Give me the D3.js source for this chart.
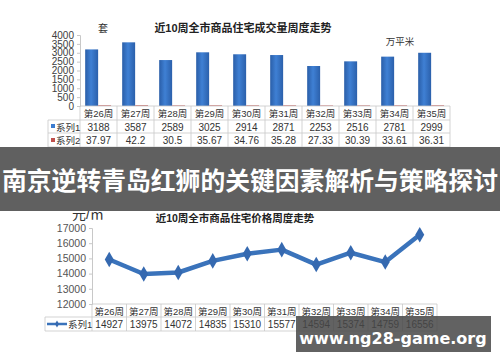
<!DOCTYPE html>
<html>
<head>
<meta charset="utf-8">
<script src="https://cdn.jsdelivr.net/npm/d3@7"></script>
<style>
  body { margin: 0; background: #fff; }
  svg { display: block; font-family: "Liberation Sans", "Noto Sans CJK SC", sans-serif; }
</style>
</head>
<body>
<script>
// weekly data
var weeks = ['第26周', '第27周', '第28周', '第29周', '第30周', '第31周', '第32周', '第33周', '第34周', '第35周'];
var volume = [3188, 3587, 2589, 3025, 2914, 2871, 2253, 2516, 2781, 2999];
var area = [37.97, 42.2, 30.5, 35.67, 34.76, 35.28, 27.33, 30.39, 33.61, 36.31];
var price = [14927, 13975, 14072, 14835, 15310, 15577, 14594, 15374, 14759, 16556];
var volTicks = [0, 500, 1000, 1500, 2000, 2500, 3000, 3500, 4000];
var priceTicks = [12000, 13000, 14000, 15000, 16000, 17000];

var W = 500, H = 362;
var gridColor = '#c8c8c8';
var textColor = '#404040';

var svg = d3.select('body').append('svg')
	.attr('width', W)
	.attr('height', H);

var defs = svg.append('defs');
var grad = defs.append('linearGradient').attr('id', 'barGrad')
	.attr('x1', 0).attr('x2', 1).attr('y1', 0).attr('y2', 0);
grad.append('stop').attr('offset', '0%').attr('stop-color', '#2a5ea8');
grad.append('stop').attr('offset', '45%').attr('stop-color', '#3f80d4');
grad.append('stop').attr('offset', '100%').attr('stop-color', '#2b60ab');

// ---------- top chart: volume bars ----------
var x1 = d3.scaleBand().domain(weeks).range([80, 450]);
var y1 = d3.scaleLinear().domain([0, 4000]).range([106, 35]);
var inner = d3.scaleBand().domain(['s1', 's2'])
	.range([x1.bandwidth() * 0.14, x1.bandwidth() * 0.84]);

svg.append('text')
	.attr('x', 243).attr('y', 32)
	.attr('text-anchor', 'middle')
	.style('font-size', '11px').style('font-weight', 'bold')
	.attr('fill', '#222')
	.text('近10周全市商品住宅成交量周度走势');

svg.append('text')
	.attr('x', 103).attr('y', 32)
	.attr('text-anchor', 'middle')
	.style('font-size', '10px')
	.attr('fill', '#333')
	.text('套');

svg.append('text')
	.attr('x', 400).attr('y', 45)
	.attr('text-anchor', 'middle')
	.style('font-size', '9.5px')
	.attr('fill', '#333')
	.text('万平米');

var ax1 = svg.append('g')
	.attr('transform', 'translate(80,0)')
	.call(d3.axisLeft(y1).tickValues(volTicks).tickFormat(d3.format('d')).tickSize(3).tickPadding(3));
ax1.select('.domain').attr('stroke', gridColor);
ax1.selectAll('.tick line').attr('stroke', gridColor);
ax1.selectAll('.tick text')
	.attr('fill', textColor)
	.style('font-size', '10px')
	.style('font-family', '"Liberation Sans", sans-serif');

svg.append('g').selectAll('rect')
	.data(volume)
	.enter().append('rect')
	.attr('x', function(d, i) { return x1(weeks[i]) + inner('s1'); })
	.attr('y', function(d) { return y1(d); })
	.attr('width', inner.bandwidth())
	.attr('height', function(d) { return y1(0) - y1(d); })
	.attr('fill', 'url(#barGrad)');

svg.append('g').selectAll('rect')
	.data(area)
	.enter().append('rect')
	.attr('x', function(d, i) { return x1(weeks[i]) + inner('s2'); })
	.attr('y', function(d) { return y1(d); })
	.attr('width', inner.bandwidth())
	.attr('height', function(d) { return y1(0) - y1(d); })
	.attr('fill', '#c0504d');

// data table under top chart
var t1Rows = [106, 120, 133, 147];
var t1 = svg.append('g').attr('stroke', gridColor).attr('stroke-width', 0.8);
t1Rows.forEach(function(y, r) {
	t1.append('line')
		.attr('x1', r == 0 ? 80 : 48).attr('x2', 450)
		.attr('y1', y).attr('y2', y);
});
weeks.forEach(function(w) {
	t1.append('line')
		.attr('x1', x1(w)).attr('x2', x1(w))
		.attr('y1', 106).attr('y2', 147);
});
t1.append('line').attr('x1', 450).attr('x2', 450).attr('y1', 106).attr('y2', 147);
t1.append('line').attr('x1', 48).attr('x2', 48).attr('y1', 120).attr('y2', 147);

function rowText(g, vals, xs, y, size) {
	g.selectAll(null)
		.data(vals)
		.enter().append('text')
		.attr('x', function(d, i) { return xs(weeks[i]) + xs.bandwidth() / 2; })
		.attr('y', y)
		.attr('text-anchor', 'middle')
		.style('font-size', size)
		.attr('fill', '#333')
		.text(function(d) { return d; });
}
var tt1 = svg.append('g');
rowText(tt1, weeks, x1, 117, '9.5px');
rowText(tt1, volume, x1, 130.5, '10px');
rowText(tt1, area, x1, 144, '10px');

tt1.append('rect').attr('x', 51).attr('y', 124).attr('width', 4).attr('height', 4).attr('fill', '#3b7cd0');
tt1.append('text').attr('x', 56).attr('y', 130.5).style('font-size', '9.5px').attr('fill', '#333').text('系列1');
tt1.append('rect').attr('x', 51).attr('y', 138).attr('width', 4).attr('height', 4).attr('fill', '#c0504d');
tt1.append('text').attr('x', 56).attr('y', 144).style('font-size', '9.5px').attr('fill', '#333').text('系列2');

// ---------- bottom chart: price line ----------
var x2 = d3.scaleBand().domain(weeks).range([92, 437]);
var y2 = d3.scaleLinear().domain([12000, 17000]).range([304, 228]);

svg.append('text')
	.attr('x', 88).attr('y', 219)
	.attr('text-anchor', 'middle')
	.style('font-size', '14px')
	.attr('fill', '#333')
	.text('元/㎡');

svg.append('text')
	.attr('x', 235).attr('y', 222)
	.attr('text-anchor', 'middle')
	.style('font-size', '10.5px').style('font-weight', 'bold')
	.attr('fill', '#222')
	.text('近10周全市商品住宅价格周度走势');

var ax2 = svg.append('g')
	.attr('transform', 'translate(92,0)')
	.call(d3.axisLeft(y2).tickValues(priceTicks).tickFormat(d3.format('d')).tickSize(3).tickPadding(3));
ax2.select('.domain').attr('stroke', gridColor);
ax2.selectAll('.tick line').attr('stroke', gridColor);
ax2.selectAll('.tick text')
	.attr('fill', '#555')
	.style('font-size', '10.5px')
	.style('font-family', '"Liberation Sans", sans-serif');

var line = d3.line()
	.x(function(d, i) { return x2(weeks[i]) + x2.bandwidth() / 2; })
	.y(function(d) { return y2(d); });

svg.append('path')
	.datum(price)
	.attr('d', line)
	.attr('fill', 'none')
	.attr('stroke', '#3a73bb')
	.attr('stroke-width', 4.5)
	.attr('stroke-linejoin', 'round');

var diamond = d3.symbol().type(d3.symbolDiamond).size(70);
svg.append('g').selectAll('path')
	.data(price)
	.enter().append('path')
	.attr('d', diamond)
	.attr('transform', function(d, i) {
		return 'translate(' + (x2(weeks[i]) + x2.bandwidth() / 2) + ',' + y2(d) + ')';
	})
	.attr('fill', '#3569b0');

// table under bottom chart
var t2 = svg.append('g').attr('stroke', gridColor).attr('stroke-width', 0.8);
[304, 317, 331].forEach(function(y, r) {
	t2.append('line')
		.attr('x1', r == 0 ? 92 : 45).attr('x2', 437)
		.attr('y1', y).attr('y2', y);
});
weeks.forEach(function(w) {
	t2.append('line')
		.attr('x1', x2(w)).attr('x2', x2(w))
		.attr('y1', 304).attr('y2', 331);
});
t2.append('line').attr('x1', 437).attr('x2', 437).attr('y1', 304).attr('y2', 331);
t2.append('line').attr('x1', 45).attr('x2', 45).attr('y1', 317).attr('y2', 331);

var tt2 = svg.append('g');
rowText(tt2, weeks, x2, 314.5, '9.5px');
rowText(tt2, price, x2, 327.5, '10px');

tt2.append('line').attr('x1', 47).attr('x2', 67).attr('y1', 324).attr('y2', 324)
	.attr('stroke', '#3a73bb').attr('stroke-width', 2.5);
tt2.append('path').attr('d', d3.symbol().type(d3.symbolDiamond).size(14))
	.attr('transform', 'translate(57,324)').attr('fill', '#3569b0');
tt2.append('text').attr('x', 68).attr('y', 327.5).style('font-size', '9.5px').attr('fill', '#333').text('系列1');

// ---------- overlays ----------
svg.append('rect')
	.attr('x', 0).attr('y', 147)
	.attr('width', W).attr('height', 64)
	.attr('fill', '#606060');

svg.append('text')
	.attr('x', 250).attr('y', 190)
	.attr('text-anchor', 'middle')
	.style('font-family', '"Noto Sans CJK SC", sans-serif')
	.style('font-size', '24.8px').style('font-weight', 'bold')
	.attr('fill', '#fff')
	.text('南京逆转青岛红狮的关键因素解析与策略探讨');

svg.append('rect')
	.attr('x', 296).attr('y', 316)
	.attr('width', 195).attr('height', 36)
	.attr('fill', 'rgb(70,70,70)').attr('fill-opacity', 0.85);

svg.append('text')
	.attr('x', 393).attr('y', 344)
	.attr('text-anchor', 'middle')
	.style('font-family', '"DejaVu Sans", sans-serif')
	.style('font-size', '16px').style('font-weight', 'bold')
	.attr('fill', '#fff')
	.text('www.ng28-game.org');
</script>
</body>
</html>
